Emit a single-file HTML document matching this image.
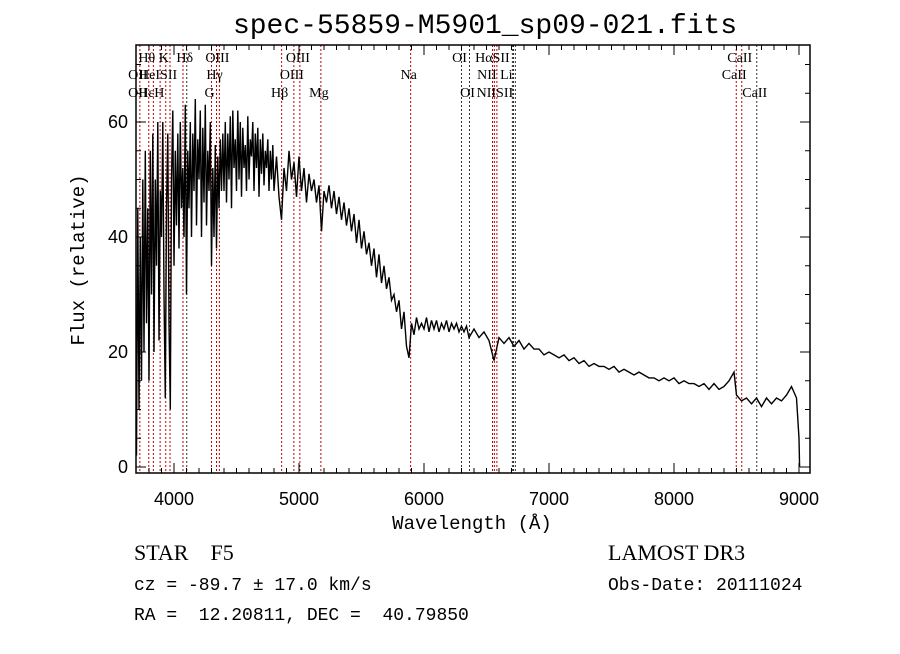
<!DOCTYPE html>
<html><head><meta charset="utf-8"><style>
body{margin:0;background:#fff}
svg text{fill:#000}
</style></head><body>
<svg id="chart" width="900" height="649" viewBox="0 0 900 649" xmlns="http://www.w3.org/2000/svg">
<rect width="900" height="649" fill="#fff"/>
<text x="485" y="33" font-family="Liberation Mono, monospace" font-size="28" text-anchor="middle">spec-55859-M5901_sp09-021.fits</text>
<g id="lines"></g>
<g id="labels"></g>
<g id="axes"></g>
<path id="spec" fill="none" stroke="#000" stroke-width="1.4"/>
<text x="472" y="529" font-family="Liberation Mono, monospace" font-size="19" text-anchor="middle">Wavelength (Å)</text>
<text transform="translate(84,260) rotate(-90)" font-family="Liberation Mono, monospace" font-size="19" text-anchor="middle">Flux (relative)</text>
<text x="134" y="560" font-family="Liberation Serif, serif" font-size="22" xml:space="preserve">STAR    F5</text>
<text x="608" y="560" font-family="Liberation Serif, serif" font-size="22">LAMOST DR3</text>
<text x="134" y="590" font-family="Liberation Mono, monospace" font-size="18">cz = -89.7 ± 17.0 km/s</text>
<text x="608" y="590" font-family="Liberation Mono, monospace" font-size="18">Obs-Date: 20111024</text>
<text x="134" y="620" font-family="Liberation Mono, monospace" font-size="18" xml:space="preserve">RA =  12.20811, DEC =  40.79850</text>
</svg>
<script>
const wavelengths=[3700,3710,3720,3730,3740,3750,3760,3770,3780,3790,3800,3810,3820,3830,3840,3850,3860,3870,3880,3890,3900,3910,3920,3930,3940,3950,3960,3970,3980,3990,4000,4010,4020,4030,4040,4050,4060,4070,4080,4090,4100,4110,4120,4130,4140,4150,4160,4170,4180,4190,4200,4210,4220,4230,4240,4250,4260,4270,4280,4290,4300,4310,4320,4330,4340,4350,4360,4370,4380,4390,
4400,4410,4420,4430,4440,4450,4460,4470,4480,4490,4500,4510,4520,4530,4540,4550,4560,4570,4580,4590,4600,4610,4620,4630,4640,4650,4660,4670,4680,4690,4700,4710,4720,4730,4740,4750,4760,4770,4780,4790,4800,4820,4840,4860,4880,4900,4920,4940,4960,4980,5000,5020,5040,5060,5080,5100,5120,5140,5160,5180,5200,5220,5240,5260,5280,5300,5320,5340,5360,5380,5400,5420,5440,5460,5480,5500,5520,5540,5560,5580,5600,5620,5640,5660,5680,5700,5720,5740,5760,5780,5800,5820,5840,5860,5880,5900,5920,5940,5960,5980,
6000,6020,6040,6060,6080,6100,6120,6140,6160,6180,6200,6220,6240,6260,6280,6300,6320,6340,6360,6400,6440,6480,6520,6560,6600,6640,6680,6720,6760,6800,6840,6880,6920,6960,7000,7040,7080,7120,7160,7200,7240,7280,7320,7360,7400,7440,7480,7520,7560,7600,7640,7680,7720,7760,7800,7840,7880,7920,7960,8000,8040,8080,8120,8160,8200,8240,8280,8320,8360,8400,8440,8480,8500,8540,8580,8620,8660,8700,8740,8780,8820,8860,8900,8940,8980,9000,9005];
const flux=[2,45,10,40,15,50,20,55,25,45,15,55,30,58,20,50,35,60,22,48,40,60,30,12,45,58,25,10,50,62,35,55,42,58,38,60,45,52,40,63,30,55,45,60,40,58,48,64,42,57,50,62,40,59,46,63,42,55,48,60,35,52,40,56,38,54,45,57,48,58,
48,60,46,58,50,61,45,62,52,57,48,62,50,60,47,59,52,56,48,61,50,57,54,60,48,58,52,59,47,57,51,58,49,55,52,57,48,55,50,56,48,54,47,43,52,48,55,50,53,47,54,48,52,46,51,48,50,46,49,41,48,46,49,45,48,44,47,43,46,42,45,41,44,39,43,38,41,37,39,35,38,33,37,32,35,31,33,29,30,27,29,24,27,21,19,25,23,26,24,25,
24,26,23.5,25.5,24,25.5,23.5,25,24,25.5,23.5,25,24,25,23.5,24.5,23.5,24.5,22.5,24,22.5,23.5,22,18.5,22.5,21.5,22.5,21,22,20.5,21.5,20.5,20.5,19.5,20,19.5,19,19.5,18.5,19,18,18.5,17.5,18,17.5,17.5,17,17.5,16.5,17,16.5,16,16.5,16,15.5,15.5,15,15.5,15,15.5,14.5,15,14.5,14.5,14,14.5,13.5,14.5,13.5,14,15,16.5,12.5,11.5,12,11,12,10.5,12,11,12,11.5,12.5,14,12,5,0];
const xTicks=[4000,5000,6000,7000,8000,9000];
const yTicks=[0,20,40,60];
const lineWaves=[3727,3798,3835,3889,3934,3968,4072,4102,4300,4340,4363,4861,4959,5007,5175,5893,6300,6364,6548,6563,6583,6707,6716,6731,8498,8542,8662];
const lineColors=['r','r','r','r','r','r','r','k','r','r','r','r','r','r','r','r','k','k','r','r','r','k','k','k','r','r','k'];
const labelTexts=['Hθ','K','Hδ','OIII','OIII','OI','HαSII','CaII','OII','HeISII','Hγ','OIII','Na','NII Li','CaII','OII','HεH','G','Hβ','Mg','OI','NIISII','CaII'];
const labelWaves=[3798,3934,4102,4363,5007,6300,6563,8542,3727,3889,4340,4959,5893,6583,8498,3727,3835,4300,4861,5175,6364,6583,8662];
const labelRows=[0,0,0,0,0,0,0,0,1,1,1,1,1,1,1,2,2,2,2,2,2,2,2];
const X0=136,X1=810,Y0=45,Y1=473;
const xs=w=>174+(w-4000)*0.125;
const ys=f=>467-f*5.75;
const NS='http://www.w3.org/2000/svg';
function mk(tag,attrs,parent){const e=document.createElementNS(NS,tag);for(const k in attrs)e.setAttribute(k,attrs[k]);parent.appendChild(e);return e;}
const gl=document.getElementById('lines');
lineWaves.forEach((w,i)=>{const l=mk('line',{x1:xs(w),x2:xs(w),y1:Y0,y2:Y1,stroke:lineColors[i]==='r'?'#c00000':'#333','stroke-width':1,'stroke-dasharray':'2,2'},gl);

});
const glab=document.getElementById('labels');
const rowY=[62,79,97];
labelTexts.forEach((t,i)=>{const e=mk('text',{x:xs(labelWaves[i])-2,y:rowY[labelRows[i]],'font-family':'Liberation Serif, serif','font-size':14,'text-anchor':'middle'},glab);e.textContent=t;

});
const n=Math.min(wavelengths.length,flux.length);
let d='';for(let i=0;i<n;i++){d+=(i?'L':'M')+xs(wavelengths[i]).toFixed(1)+' '+ys(flux[i]).toFixed(1);}
document.getElementById('spec').setAttribute('d',d);
const ga=document.getElementById('axes');
mk('rect',{x:X0,y:Y0,width:X1-X0,height:Y1-Y0,fill:'none',stroke:'#000','stroke-width':1.5},ga);
for(let w=3800;w<=9000;w+=100){const x=xs(w);const big=w%1000===0;const L=big?10:5;
mk('line',{x1:x,x2:x,y1:Y1,y2:Y1-L,stroke:'#000'},ga);mk('line',{x1:x,x2:x,y1:Y0,y2:Y0+L,stroke:'#000'},ga);}
xTicks.forEach(w=>{const t=mk('text',{x:xs(w),y:505,'font-family':'Liberation Sans, sans-serif','font-size':18,'text-anchor':'middle'},ga);t.textContent=w;

});
for(let f=0;f<=70;f+=5){const y=ys(f);if(y<Y0)continue;const L=f%20===0?10:5;
mk('line',{x1:X0,x2:X0+L,y1:y,y2:y,stroke:'#000'},ga);mk('line',{x1:X1,x2:X1-L,y1:y,y2:y,stroke:'#000'},ga);}
yTicks.forEach(f=>{const t=mk('text',{x:128,y:ys(f)+6,'font-family':'Liberation Sans, sans-serif','font-size':18,'text-anchor':'end'},ga);t.textContent=f;

});
</script>
</body></html>
